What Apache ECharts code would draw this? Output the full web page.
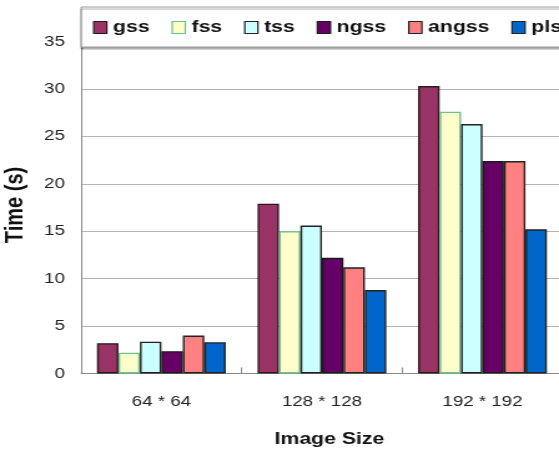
<!DOCTYPE html>
<html>
<head>
<meta charset="utf-8">
<script src="https://cdn.jsdelivr.net/npm/echarts@6/dist/echarts.min.js"></script>
<style>
  html, body { margin: 0; padding: 0; background: #ffffff; overflow: hidden; }
  /* the chart is laid out on a narrower canvas and widened to 559px */
  #chart { width: 448px; height: 453px; transform: scaleX(1.2478); transform-origin: 0 0; }
</style>
</head>
<body>
<div id="chart"></div>
<script>
// Run time of each method for three image sizes
const categories = ['64 * 64', '128 * 128', '192 * 192'];
const seriesNames = ['gss', 'fss', 'tss', 'ngss', 'angss', 'pls'];
const gss   = [3.2, 17.9, 30.3];
const fss   = [2.2, 15.0, 27.6];
const tss   = [3.35, 15.6, 26.3];
const ngss  = [2.35, 12.2, 22.4];
const angss = [4.0, 11.2, 22.4];
const pls   = [3.3, 8.8, 15.2];
const yTicks = [0, 5, 10, 15, 20, 25, 30, 35];

const values = [gss, fss, tss, ngss, angss, pls];
const fills = ['#993366', '#FFFFCC', '#CCFFFF', '#660066', '#FF8080', '#0066CC'];
const edges = ['#2a1a1a', '#6FBF8F', '#222222', '#1a1a1a', '#222222', '#222222'];

const font = '"Liberation Sans", Arial, sans-serif';

const chart = echarts.init(document.getElementById('chart'), null, { renderer: 'canvas' });

chart.setOption({
  backgroundColor: '#ffffff',
  animation: false,
  grid: { left: 65, right: -3, top: 41.5, bottom: 79.5, outerBoundsMode: 'none', containLabel: false },
  legend: {
    data: seriesNames,
    icon: 'rect',
    left: 65,
    top: 7,
    width: 600,
    orient: 'horizontal',
    padding: [12, 30, 11, 9.5],
    itemWidth: 10.5,
    itemHeight: 12,
    itemGap: 17.5,
    backgroundColor: '#ffffff',
    borderColor: '#9a9a9a',
    borderWidth: 1,
    shadowColor: 'rgba(0,0,0,0.35)',
    shadowOffsetY: 2,
    shadowBlur: 1,
    textStyle: { fontFamily: font, fontSize: 17, fontWeight: 'bold', color: '#111' },
    itemStyle: { borderWidth: 1.2 }
  },
  xAxis: {
    type: 'category',
    data: categories,
    name: 'Image Size',
    nameLocation: 'middle',
    nameGap: 57,
    nameTextStyle: { fontFamily: font, fontSize: 17, fontWeight: 'bold', color: '#111', padding: [0, 0, 0, 12] },
    axisLine: { lineStyle: { color: '#8c8c8c', width: 1 } },
    axisTick: { show: true, inside: true, length: 6, lineStyle: { color: '#8c8c8c' } },
    axisLabel: { fontFamily: font, fontSize: 15, color: '#222', margin: 21 }
  },
  yAxis: {
    type: 'value',
    min: yTicks[0],
    max: yTicks[yTicks.length - 1],
    interval: yTicks[1] - yTicks[0],
    name: 'Time (s)',
    nameLocation: 'middle',
    nameGap: 43,
    nameTextStyle: { fontFamily: font, fontSize: 20, fontWeight: 'bold', color: '#111', padding: [0, 0, 0, 5] },
    axisLine: { show: true, lineStyle: { color: '#8c8c8c', width: 1 } },
    axisTick: { show: false },
    axisLabel: { fontFamily: font, fontSize: 15, color: '#222', margin: 13 },
    splitLine: { show: true, lineStyle: { color: '#b4b4b4', width: 1 } }
  },
  series: seriesNames.map((name, i) => ({
    name: name,
    type: 'bar',
    data: values[i],
    barWidth: 17.2,
    barGap: '0%',
    itemStyle: { color: fills[i], borderColor: edges[i], borderWidth: 1.4 }
  }))
});
</script>
</body>
</html>
